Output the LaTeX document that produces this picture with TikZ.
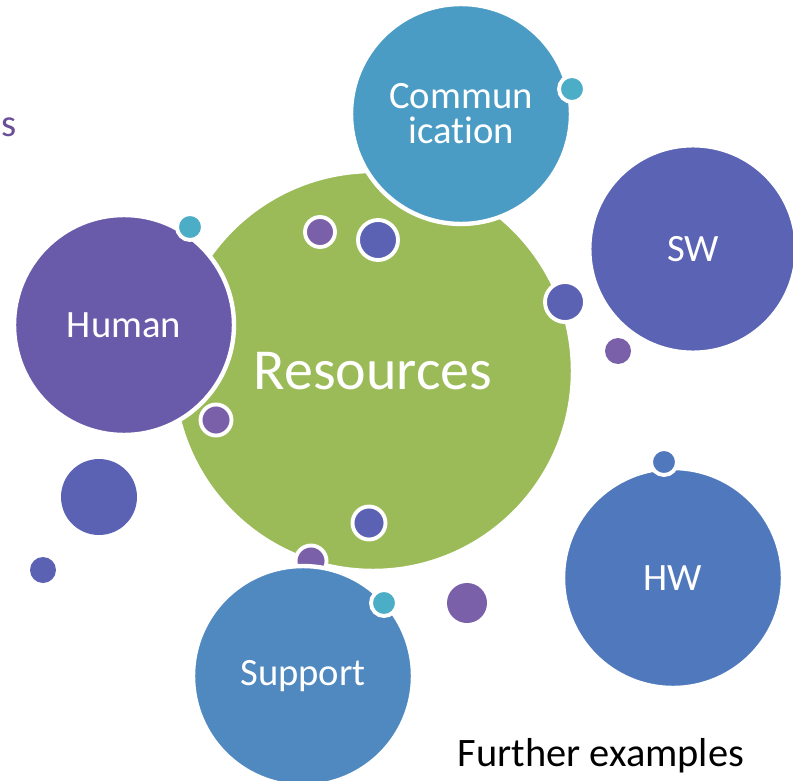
\documentclass[tikz,border=0pt]{standalone}
\usepackage{fontspec}
\setmainfont[Ligatures=NoCommon]{Carlito}
\usetikzlibrary{positioning}
\definecolor{resgreen}{HTML}{9BBB59}
\definecolor{commblue}{HTML}{4B9CC4}
\definecolor{swblue}{HTML}{5A63B4}
\definecolor{humpurple}{HTML}{6A5BAA}
\definecolor{hwblue}{HTML}{5079BD}
\definecolor{supblue}{HTML}{4F89C0}
\definecolor{dotteal}{HTML}{4BADC6}
\definecolor{dotpurple}{HTML}{7A60A8}
\definecolor{dotindigo}{HTML}{5B62B3}
\definecolor{labpurple}{HTML}{6A4F96}
\begin{document}
\begin{tikzpicture}[x=0.02cm, y=-0.02cm,
  big node/.style={circle,draw=white,line width=2.5pt,inner sep=0pt,minimum size=4.4cm,text=white,font=\fontsize{22}{26}\selectfont},
  dot/.style={circle,draw=white,line width=2.2pt,inner sep=0pt,minimum size=#1},
  dot/.default=0.52cm]
\useasboundingbox (0,0) rectangle (793,780);

\node[big node,fill=resgreen,minimum size=8cm,font=\fontsize{33}{38}\selectfont] (res) at (373,371) {Resources};

\begin{scope}
\node[dot=0.6cm,fill=dotpurple] (d1) at (320,232) {};
\node[dot=0.8cm,fill=dotindigo] (d2) at (378,240) {};
\node[dot=0.66cm,fill=dotindigo] (d3) at (369,523) {};
\node[dot=0.62cm,fill=dotpurple] (d4) at (311,561) {};
\node[dot=0.8cm,fill=dotindigo] (d5) at (565,302) {};
\end{scope}

\node[big node,fill=commblue,align=center,font=\fontsize{22}{20}\selectfont] (comm) at (461,114) {Commun\\ication};
\node[big node,fill=swblue,minimum size=4.15cm] (sw) at (693,249) {SW};
\node[big node,fill=humpurple] (human) at (124,325) {Human};
\node[big node,fill=hwblue] (hw) at (673,578) {HW};
\node[big node,fill=supblue] (support) at (303,676) {Support};

\begin{scope}
\node[dot,fill=dotteal] (d6) at (572,89) {};
\node[dot,fill=dotteal] (d7) at (190,227) {};
\node[dot=0.62cm,fill=dotpurple] (d8) at (216,420) {};
\node[dot,fill=dotteal] (d9) at (384,603) {};
\node[dot,fill=hwblue] (d10) at (664,462) {};
\node[circle,fill=dotpurple,inner sep=0pt,minimum size=0.52cm] (d11) at (618,351) {};
\node[circle,fill=dotindigo,inner sep=0pt,minimum size=1.52cm] (d12) at (99,497) {};
\node[circle,fill=dotindigo,inner sep=0pt,minimum size=0.52cm] (d13) at (43,570) {};
\node[circle,fill=dotpurple,inner sep=0pt,minimum size=0.8cm] (d14) at (467,603) {};
\end{scope}

\node[text=labpurple,font=\fontsize{22}{26}\selectfont,anchor=base west,inner sep=0pt] (cut) at (1,137) {s};
\node[font=\fontsize{23}{27}\selectfont] (further) at (601,756) {Further examples};
\end{tikzpicture}
\end{document}
